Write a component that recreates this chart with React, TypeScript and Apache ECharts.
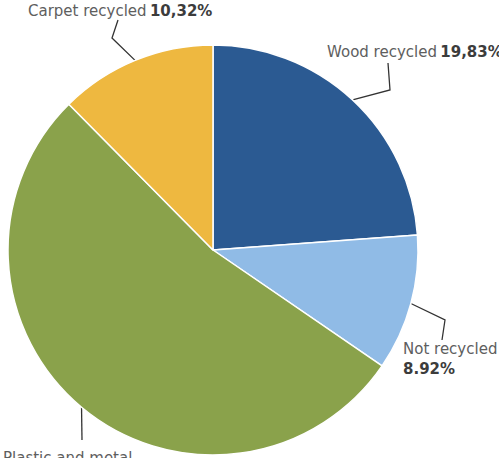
import React, { useEffect, useRef } from "react";
import * as echarts from "echarts";

const categories = ["Wood recycled", "Not recycled", "Plastic and metal", "Carpet recycled"];
const values = [19.83, 8.92, 44.1, 10.32];
const valueLabels = ["19,83%", "8.92%", "", "10,32%"];
const separators = [" ", "\n", "", " "];
const colors = ["#2b5a92", "#90bbe6", "#8aa24b", "#eeb840"];

// label placement (layout only)
const labelPlacement: { x: number; y: number; bend: [number, number][] }[] = [
  { x: 327, y: 42, bend: [[390, 90], [388, 63]] },
  { x: 403, y: 339, bend: [[445, 320], [442, 340]] },
  { x: 3, y: 448, bend: [[82, 440]] },
  { x: 28, y: 1, bend: [[112, 38], [118, 20]] },
];

export default function App() {
  const ref = useRef<HTMLDivElement>(null);
  useEffect(() => {
    document.body.style.margin = "0";
    const chart = echarts.init(ref.current!, null, { renderer: "svg" });
    chart.setOption({
      animation: false,
      backgroundColor: "#ffffff",
      series: [
        {
          type: "pie",
          center: [213, 250],
          radius: 205,
          startAngle: 90,
          clockwise: true,
          avoidLabelOverlap: false,
          itemStyle: { borderColor: "#ffffff", borderWidth: 1.5 },
          data: categories.map((name, i) => ({
            name,
            value: values[i],
            itemStyle: { color: colors[i] },
          })),
          label: {
            show: true,
            position: "outside",
            formatter: (p: any) => {
              const i = p.dataIndex;
              const v = valueLabels[i];
              return v ? `{a|${categories[i]}}${separators[i]}{b|${v}}` : `{a|${categories[i]}}`;
            },
            rich: {
              a: { fontFamily: "DejaVu Sans", fontSize: 15, color: "#5e5e5e", lineHeight: 20 },
              b: { fontFamily: "DejaVu Sans", fontSize: 15, fontWeight: "bold", color: "#3c3c3c", lineHeight: 20 },
            },
          },
          labelLine: {
            show: true,
            lineStyle: { color: "#333333", width: 1.3 },
          },
          labelLayout: (params: any) => {
            const cfg = labelPlacement[params.dataIndex];
            const start = params.labelLinePoints ? params.labelLinePoints[0] : cfg.bend[0];
            return {
              x: cfg.x,
              y: cfg.y,
              align: "left",
              verticalAlign: "top",
              labelLinePoints: [start, ...cfg.bend],
            };
          },
        },
      ],
    });
    return () => chart.dispose();
  }, []);
  return (
    <div
      ref={ref}
      style={{ position: "fixed", left: 0, top: 0, width: 499, height: 458 }}
    />
  );
}
